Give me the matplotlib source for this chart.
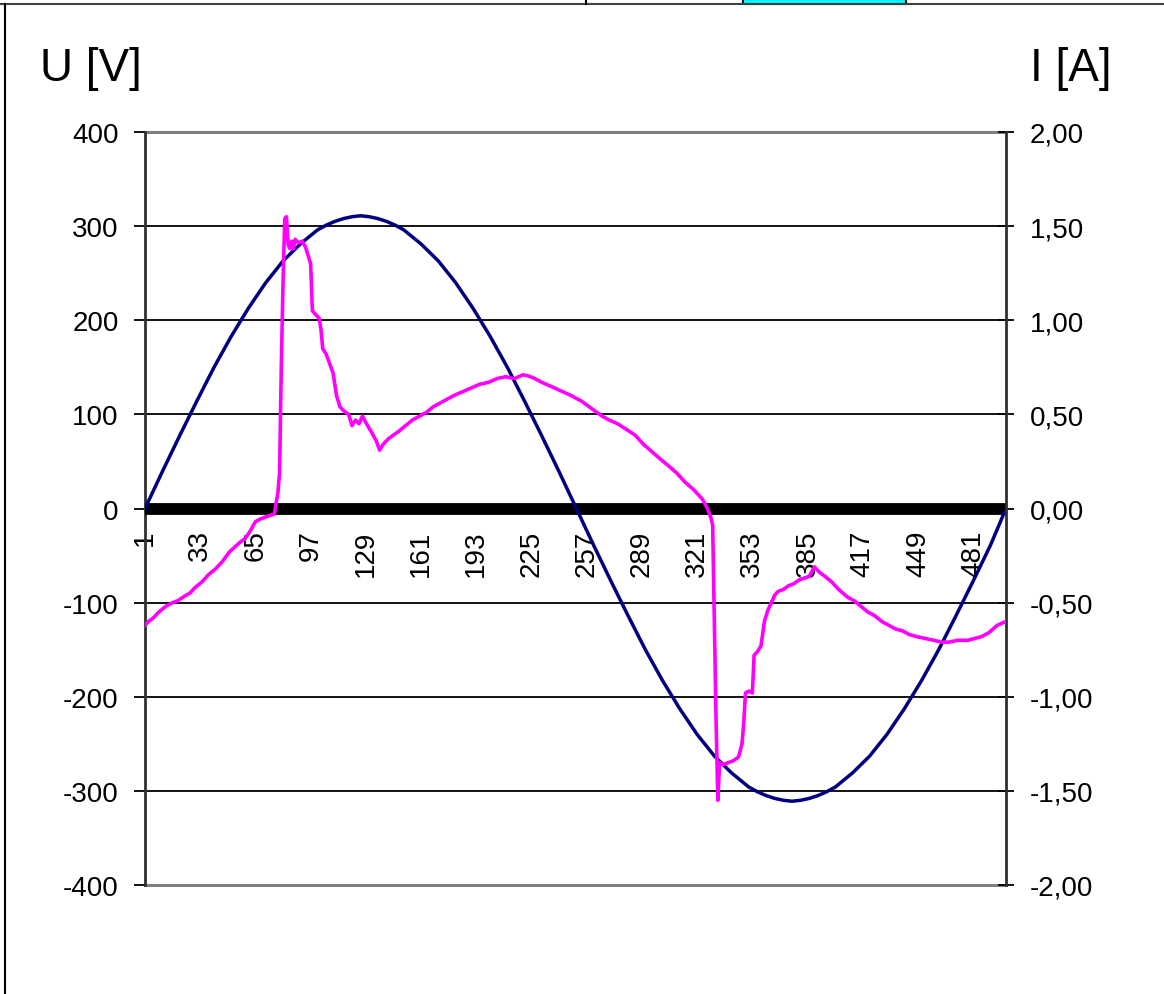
import matplotlib
matplotlib.use("Agg")
import matplotlib.pyplot as plt
from matplotlib.ticker import FuncFormatter, FixedLocator
from matplotlib.patches import Rectangle
from matplotlib.lines import Line2D

plt.rcParams['font.family'] = ['Liberation Sans', 'DejaVu Sans']

# ---- data ----
u_x = [1, 11, 21, 31, 41, 51, 61, 71, 81, 91, 101, 106, 111, 116, 121, 126, 131, 136, 141,
       146, 151, 161, 171, 181, 191, 201, 211, 221, 231, 241, 251, 261, 271, 281, 291, 301,
       311, 321, 331, 341, 351, 356, 361, 366, 371, 376, 381, 386, 391, 396, 401, 411, 421,
       431, 441, 451, 461, 471, 481, 491, 500]
u_val = [0, 39, 77, 114, 150, 183, 213, 240, 263, 281, 296, 301, 305, 308, 310, 311, 310, 308,
         305, 301, 296, 281, 263, 240, 213, 183, 150, 114, 77, 39, 0, -39, -77, -114, -150,
         -183, -213, -240, -263, -281, -296, -301, -305, -308, -310, -311, -310, -308, -305,
         -301, -296, -281, -263, -240, -213, -183, -150, -114, -77, -39, 0]

i_x = [1, 3, 6, 9, 13, 17, 20, 24, 27, 30, 34, 38, 42, 46, 50, 53, 56, 59, 62, 65, 68, 71, 74,
       76, 77, 78, 79, 80, 81, 82, 83, 84, 85, 86, 87, 88, 90, 92, 94, 96, 97, 98, 100, 102, 103,
       104, 106, 108, 110, 112, 114, 116, 119, 121, 123, 125, 127, 130, 132, 135, 137, 139, 142,
       145, 148, 152, 156, 160, 164, 168, 172, 176, 180, 185, 190, 195, 200, 205, 210, 215, 220,
       223, 227, 231, 236, 242, 248, 254, 260, 266, 270, 275, 280, 285, 290, 295, 300, 304, 309,
       314, 319, 324, 327, 329, 330, 331, 332, 333, 334, 336, 339, 342, 345, 347, 348, 349, 351,
       353, 354, 356, 358, 360, 362, 364, 366, 368, 371, 374, 377, 380, 383, 386, 389, 392, 395,
       399, 403, 408, 412, 416, 420, 424, 428, 432, 436, 440, 444, 448, 453, 458, 463, 467, 472,
       478, 482, 486, 490, 495, 500]
i_val = [-0.62, -0.60, -0.58, -0.55, -0.52, -0.50, -0.49, -0.465, -0.45, -0.42, -0.39, -0.35,
         -0.32, -0.28, -0.23, -0.205, -0.18, -0.16, -0.12, -0.07, -0.055, -0.045, -0.035,
         -0.03, 0.03, 0.08, 0.19, 0.76, 1.20, 1.54, 1.55, 1.40, 1.38, 1.42, 1.38, 1.43, 1.41,
         1.42, 1.39, 1.33, 1.30, 1.05, 1.03, 1.01, 0.95, 0.85, 0.82, 0.77, 0.72, 0.60, 0.54,
         0.52, 0.50, 0.44, 0.47, 0.45, 0.49, 0.44, 0.41, 0.36, 0.31, 0.34, 0.37, 0.39, 0.41,
         0.44, 0.47, 0.49, 0.51, 0.54, 0.56, 0.58, 0.60, 0.62, 0.64, 0.66, 0.67, 0.69, 0.70,
         0.69, 0.71, 0.705, 0.69, 0.67, 0.65, 0.625, 0.60, 0.57, 0.53, 0.49, 0.47, 0.45, 0.42,
         0.39, 0.34, 0.30, 0.26, 0.23, 0.19, 0.14, 0.10, 0.05, 0.00, -0.05, -0.09, -0.60,
         -1.14, -1.55, -1.35, -1.36, -1.35, -1.34, -1.32, -1.25, -1.14, -0.98, -0.97, -0.98,
         -0.78, -0.76, -0.73, -0.60, -0.54, -0.50, -0.46, -0.44, -0.43, -0.41, -0.40, -0.38,
         -0.37, -0.36, -0.31, -0.34, -0.36, -0.39, -0.43, -0.47, -0.49, -0.52, -0.55, -0.57,
         -0.60, -0.62, -0.64, -0.65, -0.67, -0.68, -0.69, -0.70, -0.71, -0.71, -0.70, -0.70,
         -0.69, -0.68, -0.66, -0.62, -0.60]

x_ticks = [1, 33, 65, 97, 129, 161, 193, 225, 257, 289, 321, 353, 385, 417, 449, 481]
u_ticks = [-400, -300, -200, -100, 0, 100, 200, 300, 400]
i_ticks = [-2.0, -1.5, -1.0, -0.5, 0.0, 0.5, 1.0, 1.5, 2.0]

W, H = 1164, 995
fig = plt.figure(figsize=(W / 100, H / 100), dpi=100)
fig.patch.set_facecolor('white')

L, R, T, B = 145, 1006, 133, 886
ax = fig.add_axes([L / W, 1 - B / H, (R - L) / W, (B - T) / H])
ax.set_xlim(1, 500)
ax.set_ylim(-400, 400)
ax.set_facecolor('none')

# grid lines
for v in u_ticks:
    if abs(v) == 400:
        ax.axhline(v, color='#808080', lw=2.2, zorder=1, clip_on=False)
    elif v != 0:
        ax.axhline(v, color='black', lw=1.3, zorder=1)

ax.plot(u_x, u_val, color='#000080', lw=2.5, zorder=3, solid_joinstyle='round')

ax.spines['top'].set_visible(False)
ax.spines['left'].set_color('#303030')
ax.spines['left'].set_linewidth(2.0)
ax.spines['right'].set_visible(False)
ax.spines['bottom'].set_position(('data', 0))
ax.spines['bottom'].set_linewidth(8.5)
ax.spines['bottom'].set_color('black')
ax.spines['bottom'].set_capstyle('butt')

ax.set_yticks(u_ticks)
ax.set_yticklabels([str(v) for v in u_ticks])
ax.tick_params(axis='y', direction='out', length=8, width=1.3, pad=11,
               labelsize=20, colors='black')
ax.set_xticks(x_ticks)
ax.set_xticklabels([str(v) for v in x_ticks], rotation=90, va='top', ha='center')
ax.tick_params(axis='x', length=0, pad=15, labelsize=20)

ax2 = ax.twinx()
ax2.set_ylim(-2, 2)
ax2.set_xlim(1, 500)
ax2.plot(i_x, i_val, color='#FF00FF', lw=2.6, zorder=3)
for s in ['top', 'bottom', 'left']:
    ax2.spines[s].set_visible(False)
ax2.spines['right'].set_color('#303030')
ax2.spines['right'].set_linewidth(2.0)
ax2.yaxis.set_major_locator(FixedLocator(i_ticks))
ax2.yaxis.set_major_formatter(FuncFormatter(lambda v, p: f"{v:.2f}".replace('.', ',')))
ax2.tick_params(axis='y', direction='inout', length=12, width=1.3, pad=11,
                labelsize=20, colors='black')

# axis titles
fig.text(40 / W, 1 - 81 / H, "U [V]", fontsize=33, ha='left', va='baseline')
fig.text(1112 / W, 1 - 81 / H, "I [A]", fontsize=33, ha='right', va='baseline')

# surrounding frame / spreadsheet artefacts
fig.add_artist(Line2D([0, 1], [1 - 5 / H, 1 - 5 / H], color='#404040', lw=1.5))
fig.add_artist(Line2D([5 / W, 5 / W], [0, 1 - 5 / H], color='black', lw=1.5))
fig.add_artist(Line2D([586 / W, 586 / W], [1 - 5 / H, 1], color='black', lw=1.5))
fig.add_artist(Rectangle((743 / W, 1 - 5 / H), (906 - 743) / W, 5 / H,
                         facecolor='#00FFFF', edgecolor='black', lw=1.5))

fig.savefig("out.png", dpi=100, facecolor='white')
